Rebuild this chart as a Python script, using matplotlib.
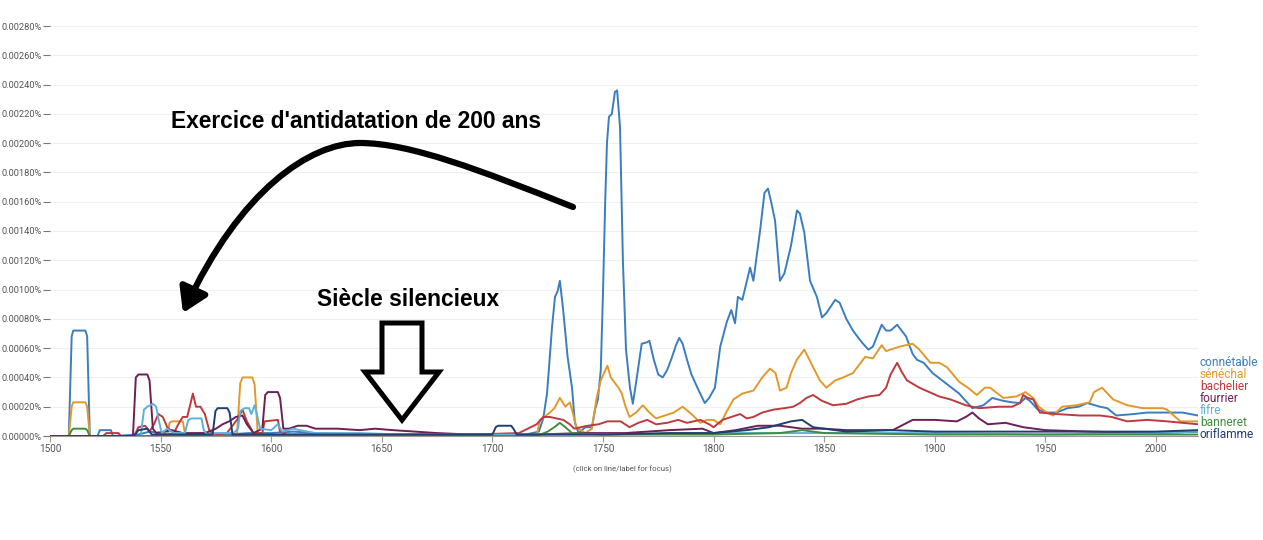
import matplotlib
matplotlib.use("Agg")
import matplotlib.pyplot as plt
from matplotlib.patches import FancyArrowPatch, Polygon
from matplotlib.path import Path
from matplotlib.ticker import FuncFormatter, MultipleLocator

# --- data (values in %) ---
connetable_years = [1500, 1508.5, 1509.8, 1510.5, 1516, 1516.8, 1518, 1521.5, 1522.5, 1527.5, 1528.5, 1540, 1545,
                    1550, 1560, 1570, 1580, 1590, 1600, 1610, 1620, 1640, 1660, 1680, 1700, 1715, 1721, 1723,
                    1724.7, 1727, 1728.3, 1729.5, 1730.5, 1732, 1734, 1736, 1737.3, 1739, 1742, 1745, 1746.4,
                    1747.7, 1749, 1750, 1751, 1751.8, 1752.7, 1754, 1755.4, 1756.4, 1757.7, 1759, 1760.4, 1762.2,
                    1763.5, 1765.3, 1767.5, 1769.9, 1771, 1773, 1775, 1777, 1779, 1781, 1783, 1784.5, 1786, 1788,
                    1790, 1793, 1796, 1798, 1800.6, 1803, 1806, 1808, 1809.7, 1811, 1813, 1816.5, 1818, 1821,
                    1823, 1824.6, 1826, 1827.8, 1830, 1832, 1835, 1837.7, 1839, 1841, 1843.6, 1846.7, 1849, 1851,
                    1855, 1857, 1860, 1863, 1867, 1870, 1872, 1876, 1878, 1880, 1883, 1887, 1890, 1892, 1895,
                    1899, 1905, 1911, 1917, 1922, 1926, 1931, 1935, 1938.5, 1941, 1943, 1946.6, 1950.6, 1955,
                    1960, 1965, 1969, 1974.7, 1978, 1982, 1990, 1996, 2008, 2012, 2019]
connetable = [0, 0, 0.00068, 0.00072, 0.00072, 0.00068, 0, 0, 0.00004, 0.00004, 0, 0.00001, 0.00003,
              0.00002, 0.00001, 0.00002, 0.00001, 0.00002, 0.00002, 0.00003, 0.00002, 0.00001, 0.00001, 0.00001,
              0.00001, 0.00001, 0.00003, 0.00012, 0.00029, 0.00075, 0.00095, 0.00099, 0.00106, 0.00086,
              0.00054, 0.00033, 0.00009, 0.00002, 0.00006, 0.00006, 0.00018, 0.00025, 0.00045, 0.00098,
              0.0016, 0.002, 0.00218, 0.0022, 0.00235, 0.00236, 0.00211, 0.0012, 0.00059, 0.00033, 0.00022,
              0.0004, 0.00063, 0.00064, 0.00065, 0.00052, 0.00042, 0.0004, 0.00045, 0.00053, 0.00062,
              0.00067, 0.00063, 0.00052, 0.00042, 0.00032, 0.000225, 0.00026, 0.00033, 0.00061, 0.00078,
              0.00086, 0.00077, 0.00095, 0.00093, 0.00115, 0.00106, 0.0014, 0.00166, 0.00169, 0.0016,
              0.00147, 0.00106, 0.00111, 0.0013, 0.00154, 0.00152, 0.00139, 0.00106, 0.00095, 0.00081,
              0.00084, 0.00093, 0.00091, 0.0008, 0.00072, 0.00064, 0.00059, 0.00061, 0.00076, 0.00072,
              0.00072, 0.00076, 0.00068, 0.00056, 0.00052, 0.0005, 0.00043, 0.00036, 0.00029, 0.00019,
              0.00021, 0.00026, 0.00024, 0.00023, 0.000225, 0.00026, 0.00024, 0.00018, 0.00016, 0.00016,
              0.00019, 0.0002, 0.000225, 0.0002, 0.00019, 0.00014, 0.00015, 0.00016, 0.00016, 0.00016,
              0.00014]

senechal_years = [1500, 1508.5, 1509.8, 1510.5, 1516, 1516.8, 1518, 1553, 1554, 1555, 1560, 1561, 1562, 1584.5,
                  1586, 1587, 1591.5, 1592.5, 1594, 1720, 1721.5, 1726, 1728, 1730.5, 1733, 1735, 1736.5, 1738,
                  1742, 1745, 1747, 1749, 1752, 1753.5, 1755, 1757, 1758.5, 1760, 1762, 1765, 1768, 1771, 1774,
                  1778, 1782, 1786, 1790, 1794, 1797, 1800, 1803, 1806, 1809, 1813, 1818, 1822, 1825.5, 1828,
                  1830, 1833, 1835, 1837.6, 1841, 1845, 1848, 1851, 1855, 1858.6, 1863, 1868.5, 1872, 1876,
                  1878, 1880, 1884, 1890, 1893, 1898, 1902, 1905.5, 1911, 1915, 1919, 1922.7, 1925, 1931, 1937,
                  1941, 1944.5, 1947, 1950.6, 1953.5, 1957.6, 1964, 1970, 1972, 1975.6, 1980.6, 1987, 1994,
                  2003, 2005, 2011, 2019]
senechal = [0, 0, 0.0002, 0.00023, 0.00023, 0.0002, 0, 0, 0.00009, 0.0001, 0.0001, 0.00002, 0, 0,
            0.00036, 0.0004, 0.0004, 0.00035, 0, 0, 0.00011, 0.00016, 0.00019, 0.00026, 0.0002, 0.00023,
            0.00015, 0.00006, 0.00002, 0.00005, 0.00025, 0.00038, 0.00048, 0.0004, 0.00037, 0.00033, 0.00029,
            0.00021, 0.00013, 0.00016, 0.00021, 0.00016, 0.00012, 0.00014, 0.00016, 0.0002, 0.00015, 0.00009,
            0.00011, 0.00011, 0.00008, 0.00017, 0.00025, 0.00029, 0.00031, 0.0004, 0.00046, 0.00043, 0.00031,
            0.00033, 0.00043, 0.00052, 0.00059, 0.00047, 0.00038, 0.00033, 0.00038, 0.0004, 0.00043, 0.00054,
            0.00053, 0.00062, 0.00058, 0.00059, 0.00061, 0.00063, 0.00059, 0.0005, 0.0005, 0.00047, 0.00037,
            0.00033, 0.00028, 0.00033, 0.00033, 0.00026, 0.00027, 0.0003, 0.00026, 0.0002, 0.00016, 0.00014,
            0.0002, 0.00021, 0.00023, 0.0003, 0.00033, 0.00025, 0.00021, 0.00019, 0.00019, 0.00018, 0.0001,
            0.0001]

bachelier_years = [1500, 1524, 1525.5, 1531, 1532, 1538, 1540, 1543, 1545, 1547, 1549, 1551, 1553, 1556, 1558,
                   1560, 1562, 1563.5, 1564.6, 1566, 1568, 1570, 1572, 1574, 1580, 1583, 1585, 1587, 1589, 1592,
                   1596, 1597, 1603, 1604, 1607, 1690, 1712, 1716, 1720, 1723, 1726, 1729, 1732, 1735, 1737,
                   1740, 1743, 1748, 1752, 1758, 1762, 1766, 1770, 1774, 1779, 1784, 1788, 1794, 1798, 1800,
                   1804, 1808, 1812, 1815, 1818, 1822, 1827, 1832, 1836, 1839, 1842, 1845, 1849, 1854, 1860,
                   1865, 1870, 1875, 1878, 1880, 1883, 1885, 1887.4, 1893, 1902, 1907, 1914, 1920, 1929, 1935,
                   1938.5, 1940, 1942, 1944.5, 1947.5, 1955, 1965.6, 1974.7, 1980, 1987, 1996, 2005, 2019]
bachelier = [0, 0, 0.00002, 0.00002, 0, 0, 0.00006, 0.00007, 0.00003, 0.00008, 0.00015, 0.00013, 0.00006,
             0.00002, 0.00008, 0.00013, 0.00013, 0.00022, 0.00029, 0.0002, 0.0002, 0.00015, 0.00004, 0.00001,
             0.00002, 0.00008, 0.00012, 0.00018, 0.0001, 0.00002, 0.00002, 0.0001, 0.00011, 0.00003, 0.00001,
             0.00001, 0.00002, 0.00005, 0.00008, 0.00013, 0.00013, 0.00012, 0.00011, 0.00008, 0.00005,
             0.00006, 0.00007, 0.00008, 0.0001, 0.0001, 0.00006, 0.00009, 0.00011, 0.00008, 0.00009, 0.00011,
             0.00009, 0.00011, 0.00008, 0.00006, 0.00011, 0.00013, 0.00015, 0.00012, 0.00013, 0.00016,
             0.00018, 0.00019, 0.0002, 0.000225, 0.00026, 0.00028, 0.00024, 0.00021, 0.00022, 0.00025,
             0.00027, 0.00028, 0.00033, 0.00042, 0.0005, 0.00044, 0.00038, 0.00033, 0.00027, 0.00025,
             0.00021, 0.00019, 0.0002, 0.0002, 0.000225, 0.00028, 0.00026, 0.00025, 0.00016, 0.00015,
             0.00014, 0.00014, 0.00013, 0.0001, 0.00011, 0.0001, 0.00008]

fourrier_years = [1500, 1537.5, 1538.8, 1540, 1544, 1545, 1546.5, 1548, 1555, 1560, 1570, 1575, 1578, 1581,
                  1584, 1587, 1589, 1592, 1596, 1597.3, 1598.5, 1603, 1604, 1605.5, 1608, 1612, 1616, 1620,
                  1630, 1640, 1647, 1655, 1665, 1675, 1690, 1720, 1740, 1760, 1780, 1795, 1800, 1810, 1820,
                  1830, 1840, 1850, 1860, 1870, 1881, 1890, 1900, 1910, 1914, 1917, 1920, 1924, 1932, 1940,
                  1950, 1970, 2000, 2019]
fourrier = [0, 0, 0.0004, 0.00042, 0.00042, 0.00038, 0.00005, 0.00002, 0.00004, 0.00002, 0.00002, 0.00005,
            0.00008, 0.0001, 0.00013, 0.00014, 0.00008, 0.00002, 0.00005, 0.00028, 0.0003, 0.0003, 0.00026,
            0.00005, 0.00005, 0.00007, 0.00007, 0.00005, 0.00005, 0.00004, 0.00005, 0.00004, 0.00003, 0.00002,
            0.00001, 0.00001, 0.00002, 0.00002, 0.00004, 0.00005, 0.00002, 0.00004, 0.00007, 0.00007, 0.00005,
            0.00005, 0.00004, 0.00004, 0.00004, 0.00011, 0.00011, 0.0001, 0.00013, 0.00016, 0.00012, 0.00008,
            0.00009, 0.00006, 0.00004, 0.00003, 0.00002, 0.00003]

fifre_years = [1500, 1541, 1542.5, 1544, 1546.5, 1548, 1549, 1550.5, 1553, 1556, 1561, 1562.5, 1564, 1568.5,
               1569.5, 1571, 1575, 1583, 1585, 1586, 1588, 1590, 1591, 1592.5, 1593.5, 1595, 1600, 1603, 1605,
               1610, 1613, 1620, 1640, 1660, 1700, 1750, 1800, 1850, 1900, 1950, 2000, 2019]
fifre = [0, 0, 0.00018, 0.0002, 0.00022, 0.0002, 0.00012, 0.00002, 0.00005, 0.00002, 0.00002, 0.00011,
         0.00012, 0.00012, 0.00004, 0.00001, 0.00002, 0.00002, 0.00005, 0.00017, 0.00019, 0.00019, 0.00015,
         0.00021, 0.00015, 0.00005, 0.00004, 0.00008, 0.00003, 0.00005, 0.00004, 0.00002, 0.00002, 0.00001,
         0.00001, 0.00001, 0.00002, 0.00002, 0.00002, 0.00001, 0.00002, 0.00003]

banneret_years = [1500, 1508.5, 1509.8, 1510.5, 1516, 1516.8, 1518, 1720, 1725, 1728, 1730.5, 1733, 1736, 1750,
                  1800, 1830, 1840, 1850, 1900, 1950, 2019]
banneret = [0, 0, 0.00004, 0.00005, 0.00005, 0.00004, 0, 0, 0.00003, 0.00006, 0.00009, 0.00006, 0.00002,
            0.00001, 0.00001, 0.00002, 0.00004, 0.00002, 0.00001, 0.00001, 0.00001]

oriflamme_years = [1500, 1538, 1540, 1544, 1546, 1560, 1573.5, 1574.8, 1575.8, 1580.2, 1581.2, 1582.5, 1600,
                   1700, 1701.5, 1702.5, 1708.5, 1709.5, 1711, 1750, 1780, 1800, 1815, 1825, 1835, 1840, 1845,
                   1860, 1880, 1900, 1950, 2000, 2019]
oriflamme = [0, 0, 0.00004, 0.00005, 0.00001, 0.00001, 0.00001, 0.00017, 0.00019, 0.00019, 0.00016, 0.00001,
             0.00001, 0.00001, 0.00006, 0.00007, 0.00007, 0.00005, 0.00001, 0.00001, 0.00002, 0.00002, 0.00004,
             0.00006, 0.0001, 0.00011, 0.00006, 0.00003, 0.00004, 0.00003, 0.00003, 0.00003, 0.00004]

labels = ["connétable", "sénéchal", "bachelier", "fourrier", "fifre", "banneret", "oriflamme"]
colors = ["#3b7dbd", "#e2992c", "#bd3a3f", "#6e1f55", "#5db0dc", "#3f8d3f", "#1f3f70"]

series = [
    (connetable_years, connetable),
    (senechal_years, senechal),
    (bachelier_years, bachelier),
    (fourrier_years, fourrier),
    (fifre_years, fifre),
    (banneret_years, banneret),
    (oriflamme_years, oriflamme),
]

W, H = 1263, 540


def fx(px):
    return px / W


def fy(py):
    return 1 - py / H


fig = plt.figure(figsize=(W / 100, H / 100), dpi=100)
ax = fig.add_axes([fx(50), fy(436), (1198 - 50) / W, (436 - 26) / H])

for (yrs, vals), c in zip(series, colors):
    ax.plot(yrs, vals, color=c, lw=1.4, solid_joinstyle="round")

ax.set_xlim(1500, 2019)
ax.set_ylim(0, 0.0028)
ax.yaxis.set_major_locator(MultipleLocator(0.0002))
ax.xaxis.set_major_locator(MultipleLocator(50))
ax.yaxis.set_major_formatter(FuncFormatter(lambda v, p: f"{v:.5f}%"))
ax.grid(axis="y", color="#f0f0f0", lw=0.8)
ax.set_axisbelow(True)
for s in ["top", "right", "left"]:
    ax.spines[s].set_visible(False)
ax.spines["bottom"].set_color("#9a9a9a")
ax.spines["bottom"].set_linewidth(0.8)
ax.tick_params(axis="y", length=5, width=0.8, color="#777777", labelsize=6.7, labelcolor="#555555", pad=1)
ax.tick_params(axis="x", length=4, width=0.8, color="#9a9a9a", labelsize=7.2, labelcolor="#555555", pad=2)
for t in ax.get_xticklabels() + ax.get_yticklabels():
    t.set_family("Roboto")

fig.text(fx(622), fy(469), "(click on line/label for focus)", ha="center", va="center",
         fontsize=5.6, color="#555555", family="Roboto")

# legend labels stacked at the right
for i, (lab, c) in enumerate(zip(labels, colors)):
    fig.text(fx(1200), fy(362 + 12 * i), lab, color=c, fontsize=8.6, ha="left", va="center",
             family="Roboto")

# annotations
fig.text(fx(171), fy(121), "Exercice d'antidatation de 200 ans", fontsize=16.4, fontweight="bold",
         family="Liberation Sans", ha="left", va="center", color="black")
fig.text(fx(317), fy(300), "Siècle silencieux", fontsize=16.4, fontweight="bold",
         family="Liberation Sans", ha="left", va="center", color="black")

pts = [(573, 207), (480, 170), (410, 143), (360, 143), (310, 143), (240, 190), (183, 313)]
verts = [(fx(x), fy(y)) for x, y in pts]
codes = [Path.MOVETO] + [Path.CURVE4] * 6
arrow = FancyArrowPatch(path=Path(verts, codes), arrowstyle="-|>,head_length=0.8,head_width=0.5",
                        mutation_scale=18, lw=4.5, color="black", transform=fig.transFigure,
                        capstyle="round", joinstyle="round")
fig.add_artist(arrow)

block = [(382, 323), (422, 323), (422, 372), (439, 372), (402, 420), (365, 372), (382, 372)]
fig.add_artist(Polygon([(fx(x), fy(y)) for x, y in block], closed=True, fill=False, lw=3.6,
                       edgecolor="black", joinstyle="miter", transform=fig.transFigure))

fig.savefig("out.png", dpi=100, facecolor="white")
